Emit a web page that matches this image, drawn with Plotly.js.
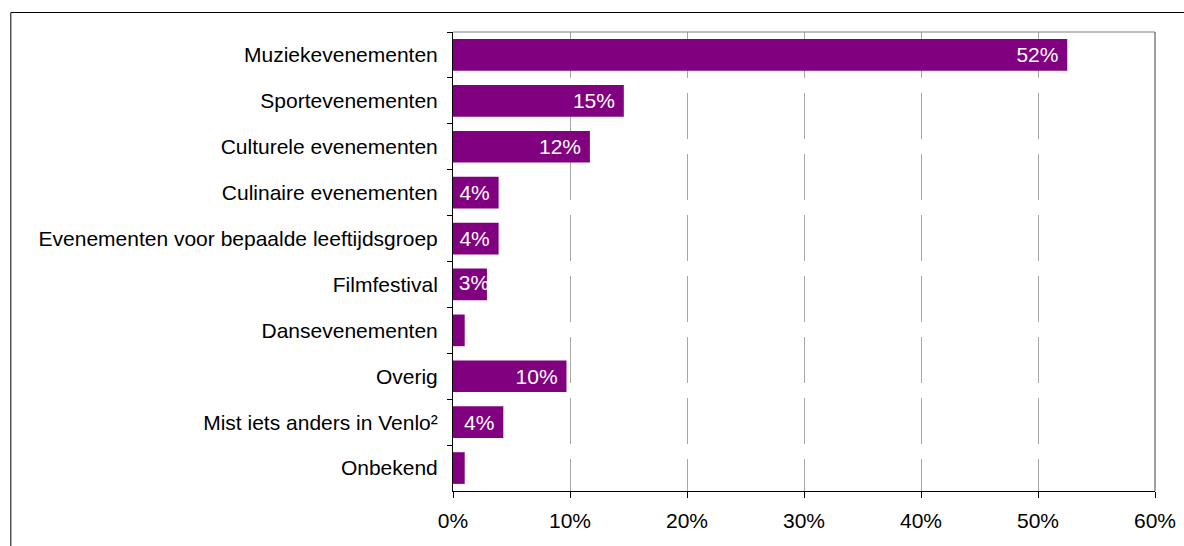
<!DOCTYPE html>
<html>
<head>
<meta charset="utf-8">
<script src="https://cdn.plot.ly/plotly-3.0.1.min.js"></script>
<style>
html,body{margin:0;padding:0;background:#fff;}
#chart{width:1184px;height:546px;}
</style>
</head>
<body>
<div id="chart"></div>
<script>
const categories = [
  "Muziekevenementen",
  "Sportevenementen",
  "Culturele evenementen",
  "Culinaire evenementen",
  "Evenementen voor bepaalde leeftijdsgroep",
  "Filmfestival",
  "Dansevenementen",
  "Overig",
  "Mist iets anders in Venlo²",
  "Onbekend"
];
const values = [52.5, 14.6, 11.7, 3.9, 3.9, 2.9, 1.0, 9.7, 4.3, 1.0];
const valueLabels = ["52%", "15%", "12%", "4%", "4%", "3%", "", "10%", "4%", ""];
const xTickValues = [0, 10, 20, 30, 40, 50, 60];
const xTickLabels = ["0%", "10%", "20%", "30%", "40%", "50%", "60%"];

const FONT = '"Liberation Sans", Arial, Helvetica, sans-serif';

// labels on bars too short to hold them are anchored at the bar start instead
const tooShort = values.map(function (v, i) { return valueLabels[i] !== '' && v < 3.5; });

const trace = {
  type: 'bar',
  orientation: 'h',
  x: values,
  y: categories,
  text: valueLabels.map(function (s, i) { return (s && !tooShort[i]) ? s + '\u00a0' : ''; }),
  textposition: 'inside',
  insidetextanchor: 'end',
  constraintext: 'none',
  cliponaxis: false,
  textfont: {family: FONT, size: 21, color: '#ffffff'},
  marker: {color: '#800080', line: {width: 0}},
  hoverinfo: 'none'
};

const shortX = [], shortY = [], shortT = [];
values.forEach(function (v, i) {
  if (tooShort[i]) { shortX.push(0); shortY.push(categories[i]); shortT.push('\u00a0' + valueLabels[i]); }
});
const shortLabels = {
  type: 'scatter',
  mode: 'text',
  x: shortX,
  y: shortY,
  text: shortT,
  textposition: 'middle right',
  cliponaxis: false,
  textfont: {family: FONT, size: 21, color: '#ffffff'},
  hoverinfo: 'none'
};

const L = 453, R = 28.5, T = 32, B = 55;
const W = 1184, H = 546;
const pw = W - L - R, ph = H - T - B;
function px2x(p) { return (p - L) / pw; }
function py2y(p) { return (H - B - p) / ph; }

const layout = {
  width: W, height: H,
  margin: {l: L, r: R, t: T, b: B, pad: 0},
  paper_bgcolor: '#ffffff',
  plot_bgcolor: '#ffffff',
  showlegend: false,
  bargap: 0.31,
  font: {family: FONT, size: 21, color: '#000000'},
  xaxis: {
    range: [0, 60],
    tickvals: xTickValues,
    ticktext: xTickLabels,
    ticks: 'outside', ticklen: 6, tickcolor: '#000000', tickwidth: 1,
    showline: true, linecolor: '#000000', linewidth: 1,
    showgrid: true, gridcolor: '#a6a6a6', gridwidth: 1, griddash: '46px,15px',
    zeroline: false,
    ticklabelstandoff: 5,
    tickfont: {family: FONT, size: 21, color: '#000000'},
    fixedrange: true
  },
  yaxis: {
    autorange: 'reversed',
    type: 'category',
    categoryorder: 'array',
    categoryarray: categories,
    ticks: 'outside', tickson: 'boundaries', ticklen: 5, tickcolor: '#000000', tickwidth: 1,
    showline: true, linecolor: '#000000', linewidth: 1,
    showgrid: false, zeroline: false,
    ticklabelstandoff: 10,
    tickfont: {family: FONT, size: 21, color: '#000000'},
    fixedrange: true
  },
  shapes: [
    {type: 'line', xref: 'paper', yref: 'paper', x0: 0, x1: 1, y0: 1, y1: 1,
     line: {color: '#808080', width: 1}},
    {type: 'line', xref: 'paper', yref: 'paper', x0: 1, x1: 1, y0: 0, y1: 1,
     line: {color: '#404040', width: 1}},
    {type: 'rect', xref: 'paper', yref: 'paper',
     x0: px2x(10.5), x1: px2x(1200), y0: py2y(600), y1: py2y(12.5),
     line: {color: '#000000', width: 1}, fillcolor: 'rgba(0,0,0,0)'}
  ]
};

Plotly.newPlot('chart', [trace, shortLabels], layout, {displayModeBar: false, staticPlot: true});
</script>
</body>
</html>
